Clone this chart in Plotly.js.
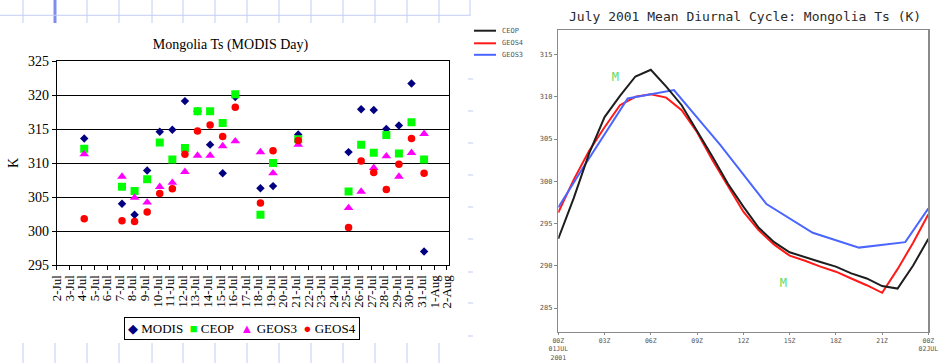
<!DOCTYPE html>
<html><head><meta charset="utf-8">
<script src="https://cdn.plot.ly/plotly-3.0.1.min.js"></script>
<style>html,body{margin:0;padding:0;background:#fff}#chart{width:942px;height:363px}</style>
</head><body><div id="chart"></div>
<script>
// ---------- Left chart data: daily MODIS-day-time Ts over Mongolia (K) ----------
const days = ['2001-07-04 04:30','2001-07-07 04:30','2001-07-08 04:30','2001-07-09 04:30','2001-07-10 04:30',
  '2001-07-11 04:30','2001-07-12 04:30','2001-07-13 04:30','2001-07-14 04:30','2001-07-15 04:30',
  '2001-07-16 04:30','2001-07-18 04:30','2001-07-19 04:30','2001-07-21 04:30','2001-07-25 04:30',
  '2001-07-26 04:30','2001-07-27 04:30','2001-07-28 04:30','2001-07-29 04:30','2001-07-30 04:30','2001-07-31 04:30'];
const modis = [313.6,304.0,302.4,308.9,314.6,314.9,319.1,317.6,312.7,308.5,319.7,306.3,306.6,314.2,311.6,317.9,317.8,315.0,315.5,321.7,297.0];
const ceop  = [312.1,306.5,305.9,307.6,313.0,310.5,312.2,317.6,317.6,315.9,320.1,302.4,310.0,313.5,305.8,312.7,311.5,314.1,311.4,316.0,310.5];
const geos3 = [311.3,308.0,304.9,304.2,306.5,307.1,308.7,311.1,311.1,312.5,313.2,311.6,308.5,312.7,303.4,305.8,309.3,311.0,308.0,311.5,314.3];
const geos4 = [301.8,301.5,301.4,302.8,305.5,306.2,311.3,314.7,315.6,313.9,318.2,304.1,311.8,313.3,300.5,310.3,308.6,306.1,309.8,313.6,308.5];
const seriesNames = ['MODIS','CEOP','GEOS3','GEOS4'];

// ---------- Right chart data: July 2001 mean diurnal cycle (K) ----------
const hours = [0,1,2,3,4,5,6,7,8,9,10,11,12,13,14,15,16,17,18,19,20,21,22,23,24];
const ceopDiurnal  = [293.2,298.0,303.3,307.6,310.1,312.4,313.2,311.2,309.0,306.0,302.9,299.7,297.0,294.5,292.8,291.6,291.0,290.45,289.9,289.1,288.5,287.6,287.3,290.0,293.2];
const geos4Diurnal = [296.3,300.2,303.6,306.4,309.0,310.0,310.3,309.9,308.4,305.8,302.5,299.5,296.4,294.2,292.5,291.2,290.6,289.9,289.3,288.5,287.7,286.8,289.6,292.7,296.1];
const geos3Hours   = [0,1.5,4.5,7.5,10.5,13.5,16.5,19.5,22.5,24];
const geos3Diurnal = [296.9,301.3,309.8,310.8,304.3,297.3,293.9,292.15,292.8,296.8];
const modisHours   = [3.7,14.6];
const modisDiurnal = [312.2,287.8];
const hourTickVals = [0,3,6,9,12,15,18,21,24];
const hourTickText = ['00Z<br>01JUL<br>2001','03Z','06Z','09Z','12Z','15Z','18Z','21Z','00Z<br>02JUL'];
const diurnalNames = ['CEOP','GEOS4','GEOS3'];

// ---------- layout helpers (pixel -> paper) ----------
const W = 942, H = 363;
const X = p => p / W, Y = p => 1 - p / H;
const serif = 'Liberation Serif, Times New Roman, serif';
const mono = 'DejaVu Sans Mono, monospace';

const traces = [
  {x: days, y: modis, name: seriesNames[0], type: 'scatter', mode: 'markers', xaxis: 'x', yaxis: 'y',
   marker: {symbol: 'diamond', color: '#000080', size: 6.5}},
  {x: days, y: ceop, name: seriesNames[1], type: 'scatter', mode: 'markers', xaxis: 'x', yaxis: 'y',
   marker: {symbol: 'square', color: '#00ff00', size: 8}},
  {x: days, y: geos3, name: seriesNames[2], type: 'scatter', mode: 'markers', xaxis: 'x', yaxis: 'y',
   marker: {symbol: 'triangle-up', color: '#ff00ff', size: 8.5}},
  {x: days, y: geos4, name: seriesNames[3], type: 'scatter', mode: 'markers', xaxis: 'x', yaxis: 'y',
   marker: {symbol: 'circle', color: '#ff0000', size: 7.5}},
  {x: hours, y: geos4Diurnal, name: diurnalNames[1], type: 'scatter', mode: 'lines', xaxis: 'x2', yaxis: 'y2',
   line: {color: '#ff1a1a', width: 2}},
  {x: geos3Hours, y: geos3Diurnal, name: diurnalNames[2], type: 'scatter', mode: 'lines', xaxis: 'x2', yaxis: 'y2',
   line: {color: '#4a66ff', width: 2}},
  {x: hours, y: ceopDiurnal, name: diurnalNames[0], type: 'scatter', mode: 'lines', xaxis: 'x2', yaxis: 'y2',
   line: {color: '#1e1e1e', width: 2}},
  {x: modisHours, y: modisDiurnal, name: 'MODIS', type: 'scatter', mode: 'text', text: ['M','M'], xaxis: 'x2', yaxis: 'y2',
   textposition: 'middle center', textfont: {family: mono, size: 12, color: '#5fdc5f'}}
];

// spreadsheet-grid decoration around the left picture
const shapes = [];
const light = '#c4ccf6';
const colX = [23,87,119,152,183,215,247,279,311,343,375,407,439];
colX.forEach(px => {
  shapes.push({type:'line', xref:'paper', yref:'paper', x0:X(px), x1:X(px), y0:Y(0), y1:Y(23), line:{color:light, width:1}});
  shapes.push({type:'line', xref:'paper', yref:'paper', x0:X(px), x1:X(px), y0:Y(343), y1:Y(363), line:{color:light, width:1}});
});
shapes.push({type:'line', xref:'paper', yref:'paper', x0:X(55), x1:X(55), y0:Y(0), y1:Y(23), line:{color:'#7f8cf0', width:3}});
shapes.push({type:'line', xref:'paper', yref:'paper', x0:X(55), x1:X(55), y0:Y(343), y1:Y(363), line:{color:light, width:1}});
shapes.push({type:'line', xref:'paper', yref:'paper', x0:X(0), x1:X(470), y0:Y(15.3), y1:Y(15.3), line:{color:light, width:1}});
shapes.push({type:'line', xref:'paper', yref:'paper', x0:X(470), x1:X(470), y0:Y(0), y1:Y(16), line:{color:light, width:1}});
[79,111,143,175,207,239,272,303,336].forEach(py => {
  shapes.push({type:'line', xref:'paper', yref:'paper', x0:X(468), x1:X(473), y0:Y(py), y1:Y(py), line:{color:light, width:1}});
});
// right-panel legend samples
const legendColors = ['#1e1e1e','#ff1a1a','#4a66ff'];
const legendRows = [30.7, 43.3, 54.8];
legendRows.forEach((py, i) => {
  shapes.push({type:'line', xref:'paper', yref:'paper', x0:X(474), x1:X(496), y0:Y(py), y1:Y(py), line:{color:legendColors[i], width:2}});
});

const annotations = [
  {xref:'paper', yref:'paper', x:X(745), y:Y(16), xanchor:'center', yanchor:'middle', showarrow:false,
   text:'July 2001 Mean Diurnal Cycle: Mongolia Ts (K)', font:{family:mono, size:13, color:'#2a2a2a'}},
  {xref:'paper', yref:'paper', x:X(242), y:Y(328.5), xanchor:'center', yanchor:'middle', showarrow:false,
   bordercolor:'#000', borderwidth:1, borderpad:3, bgcolor:'#fff',
   font:{family:serif, size:13, color:'#000'},
   text:'<span style="color:#000080">◆</span> ' + seriesNames[0] +
        '&nbsp; <span style="color:#00ff00">■</span> ' + seriesNames[1] +
        '&nbsp; <span style="color:#ff00ff">▲</span> ' + seriesNames[2] +
        '&nbsp; <span style="color:#ff0000">●</span> ' + seriesNames[3]}
];
legendRows.forEach((py, i) => {
  annotations.push({xref:'paper', yref:'paper', x:X(500), y:Y(py), xanchor:'left', yanchor:'middle', showarrow:false,
    text: diurnalNames[i], font:{family:mono, size:7, color:'#555'}});
});

const layout = {
  width: W, height: H,
  margin: {l:0, r:0, t:0, b:0},
  paper_bgcolor: '#fff', plot_bgcolor: '#fff',
  showlegend: false,
  title: {text:'Mongolia Ts (MODIS Day)', x:X(230.5), y:Y(44), xanchor:'center', yanchor:'middle',
          font:{family:serif, size:14, color:'#000'}},
  xaxis: {domain:[X(56.7), X(449)], anchor:'y', type:'date',
          range:['2001-07-02 00:00','2001-08-02 04:00'],
          tick0:'2001-07-02', dtick:86400000, tickformat:'%-d-%b', tickangle:-90,
          ticks:'outside', ticklen:4, tickcolor:'#000',
          tickfont:{family:serif, size:13, color:'#000'},
          showline:true, linecolor:'#000', linewidth:1, mirror:true, showgrid:false, zeroline:false},
  yaxis: {domain:[Y(265), Y(61)], anchor:'x', range:[295,325], dtick:5,
          ticks:'outside', ticklen:4, tickcolor:'#000',
          tickfont:{family:serif, size:14, color:'#000'},
          title:{text:'K', font:{family:serif, size:14, color:'#000'}, standoff:6},
          showline:true, linecolor:'#000', linewidth:1, mirror:true,
          showgrid:true, gridcolor:'#000', gridwidth:1, zeroline:false},
  xaxis2: {domain:[X(558.3), X(928.4)], anchor:'y2', range:[0,24],
           tickmode:'array', tickvals:hourTickVals, ticktext:hourTickText,
           ticks:'outside', ticklen:2, tickcolor:'#888',
           tickfont:{family:mono, size:6.5, color:'#555'},
           showline:true, linecolor:'#8a8a8a', linewidth:1.5, mirror:true, showgrid:false, zeroline:false},
  yaxis2: {domain:[Y(331.7), Y(30)], anchor:'x2', range:[282.2,317.9], dtick:5, tick0:285,
           ticks:'outside', ticklen:3, tickcolor:'#888',
           tickfont:{family:mono, size:7, color:'#555'},
           showline:true, linecolor:'#8a8a8a', linewidth:1.5, mirror:true, showgrid:false, zeroline:false},
  shapes: shapes,
  annotations: annotations
};

Plotly.newPlot('chart', traces, layout, {staticPlot:true, displayModeBar:false});
</script>
</body></html>
